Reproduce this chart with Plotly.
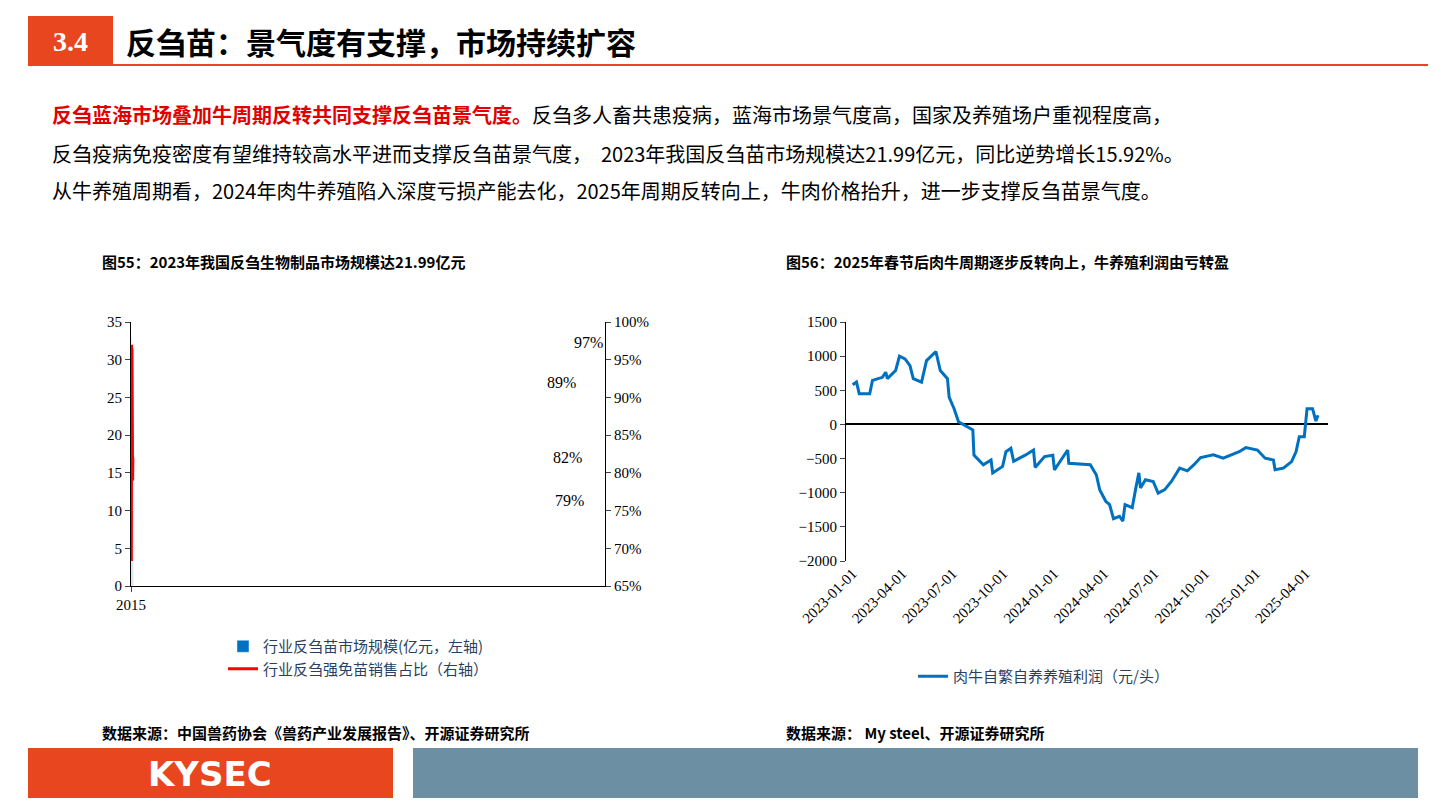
import plotly.graph_objects as go

# left chart data
years = ["2015", "2016", "2017", "2018", "2019", "2020", "2021", "2022", "2023"]
market_size = [19.7, 28.0, 32.9, 25.7, 13.0, 16.7, 19.4, 19.0, 21.99]
strong_share = [89, 68.3, 97, 85, 96.5, 92, 83, 79, 82]
share_labels = ["89%", "", "97%", "", "", "", "", "79%", "82%"]

# right chart data
dates = ["2023-01-01", "2023-01-08", "2023-01-13", "2023-02-01", "2023-02-06", "2023-02-24",
         "2023-03-02", "2023-03-05", "2023-03-20", "2023-03-27", "2023-04-06", "2023-04-15",
         "2023-04-21", "2023-05-06", "2023-05-15", "2023-06-01", "2023-06-09", "2023-06-22",
         "2023-06-25", "2023-07-04", "2023-07-12", "2023-07-27", "2023-08-07", "2023-08-09",
         "2023-08-26", "2023-09-09", "2023-09-12", "2023-09-30", "2023-10-06", "2023-10-15",
         "2023-10-20", "2023-11-10", "2023-11-25", "2023-11-28", "2023-12-15", "2023-12-30",
         "2024-01-02", "2024-01-26", "2024-01-28", "2024-03-07", "2024-03-18", "2024-03-24",
         "2024-04-04", "2024-04-11", "2024-04-18", "2024-04-29", "2024-05-05", "2024-05-09",
         "2024-05-22", "2024-05-28", "2024-06-03", "2024-06-06", "2024-06-15", "2024-06-29",
         "2024-07-08", "2024-07-20", "2024-08-01", "2024-08-16", "2024-08-30", "2024-09-11",
         "2024-09-23", "2024-10-16", "2024-11-03", "2024-12-02", "2024-12-14", "2025-01-04",
         "2025-01-18", "2025-02-02", "2025-02-05", "2025-02-20", "2025-03-07", "2025-03-15",
         "2025-03-21", "2025-03-30", "2025-04-04", "2025-04-14", "2025-04-20", "2025-04-24"]
profit = [580, 620, 450, 450, 645, 690, 765, 670, 790, 1000, 960, 860,
          670, 620, 935, 1065, 790, 670, 400, 230, 40, -35, -80, -450,
          -590, -520, -710, -615, -400, -350, -540, -450, -375, -630, -470, -450,
          -665, -375, -570, -590, -740, -955, -1125, -1175, -1380, -1345, -1415, -1175,
          -1220, -955, -710, -930, -810, -835, -1005, -955, -835, -640, -680, -590,
          -485, -445, -495, -400, -340, -375, -495, -520, -665, -640, -545, -400,
          -180, -180, 230, 230, 50, 135]
quarter_ticks = ["2023-01-01", "2023-04-01", "2023-07-01", "2023-10-01", "2024-01-01",
                 "2024-04-01", "2024-07-01", "2024-10-01", "2025-01-01", "2025-04-01"]

ORANGE = "#E8461E"
BLUE = "#0070C0"
SERIF = "Liberation Serif, Times New Roman, Noto Sans CJK SC"
CJK = "Noto Sans CJK SC"
W, H = 1440, 810

def px(x):
    return x / W

def py(y):
    return 1 - y / H

fig = go.Figure()

fig.add_trace(go.Bar(x=years, y=market_size, marker_color=BLUE, width=0.4,
                     name="行业反刍苗市场规模(亿元，左轴)", xaxis="x", yaxis="y", legend="legend"))
fig.add_trace(go.Scatter(x=years, y=strong_share, mode="lines", line=dict(color="#FF0000", width=3),
                         name="行业反刍强免苗销售占比（右轴）", xaxis="x", yaxis="y2", legend="legend"))
fig.add_trace(go.Scatter(x=dates, y=profit, mode="lines", line=dict(color=BLUE, width=3),
                         name="肉牛自繁自养养殖利润（元/头）", xaxis="x3", yaxis="y3", legend="legend2"))

shapes = [
    dict(type="rect", xref="paper", yref="paper", x0=px(20), x1=px(105), y0=py(57), y1=py(8),
         fillcolor=ORANGE, line_width=0),
    dict(type="line", xref="paper", yref="paper", x0=px(20), x1=px(1420), y0=py(57), y1=py(57),
         line=dict(color=ORANGE, width=2)),
    dict(type="rect", xref="paper", yref="paper", x0=px(20), x1=px(385), y0=py(790), y1=py(740),
         fillcolor=ORANGE, line_width=0),
    dict(type="rect", xref="paper", yref="paper", x0=px(405), x1=px(1410), y0=py(790), y1=py(740),
         fillcolor="#6C8FA3", line_width=0),
]

def note(x, y, text, size=16, color="black", family=CJK, anchor="left"):
    return dict(xref="paper", yref="paper", x=px(x), y=py(y), text=text, showarrow=False,
                xanchor=anchor, yanchor="middle", font=dict(size=size, color=color, family=family))

annotations = [
    note(62, 33, "<b>3.4</b>", 28, "white", SERIF, "center"),
    note(116, 33, "<b>反刍苗：景气度有支撑，市场持续扩容</b>", 30),
    note(42, 107, "<b><span style='color:#E00000'>反刍蓝海市场叠加牛周期反转共同支撑反刍苗景气度。</span></b>"
         "反刍多人畜共患疫病，蓝海市场景气度高，国家及养殖场户重视程度高，", 20),
    note(42, 145, "反刍疫病免疫密度有望维持较高水平进而支撑反刍苗景气度，  2023年我国反刍苗市场规模达21.99亿元，同比逆势增长15.92%。", 20),
    note(42, 183, "从牛养殖周期看，2024年肉牛养殖陷入深度亏损产能去化，2025年周期反转向上，牛肉价格抬升，进一步支撑反刍苗景气度。", 20),
    note(92, 254, "<b>图55：2023年我国反刍生物制品市场规模达21.99亿元</b>", 15),
    note(776, 254, "<b>图56：2025年春节后肉牛周期逐步反转向上，牛养殖利润由亏转盈</b>", 15),
    note(92, 724, "<b>数据来源：中国兽药协会《兽药产业发展报告》、开源证券研究所</b>", 15),
    note(776, 724, "<b>数据来源： My steel、开源证券研究所</b>", 15),
    note(202, 766, "<b>KYSEC</b>", 34, "white", "DejaVu Sans", "center"),
]
offsets = {"89%": (-5, -22), "97%": (22, -2), "79%": (2, 20), "82%": (0, 0)}
for yr, v, lab in zip(years, strong_share, share_labels):
    if lab:
        dx, dy = offsets[lab]
        annotations.append(dict(x=yr, y=v, xref="x", yref="y2", text=lab, showarrow=False,
                                xshift=dx, yshift=-dy, font=dict(size=16, family=SERIF, color="black")))

axis_font = dict(size=15, family=SERIF, color="black")
fig.update_layout(
    width=W, height=H, margin=dict(l=0, r=0, t=0, b=0, autoexpand=False),
    paper_bgcolor="white", plot_bgcolor="white",
    shapes=shapes, annotations=annotations,
    bargap=0.5,
    xaxis=dict(domain=[px(123), px(597)], anchor="y", type="category", showline=True, linecolor="black",
               ticks="outside", tickfont=axis_font, showgrid=False, ticklen=5, automargin=False),
    yaxis=dict(domain=[py(578), py(314)], anchor="x", range=[0, 35], dtick=5, showline=True,
               linecolor="black", ticks="outside", tickfont=axis_font, showgrid=False, zeroline=False,
               automargin=False),
    yaxis2=dict(overlaying="y", side="right", anchor="x", range=[65, 100], dtick=5, ticksuffix="%",
                showline=True, linecolor="black", ticks="outside", tickfont=axis_font, showgrid=False,
                automargin=False),
    xaxis3=dict(domain=[px(838), px(1320)], anchor="y3", range=["2022-12-20", "2025-05-12"],
                tickvals=quarter_ticks, tickformat="%Y-%m-%d", tickangle=-45, tickfont=axis_font,
                showgrid=False, showline=False, ticks="", automargin=False),
    yaxis3=dict(domain=[py(553), py(314)], anchor="x3", range=[-2000, 1500], dtick=500, showline=True,
                linecolor="black", ticks="outside", tickfont=axis_font, showgrid=False,
                zeroline=True, zerolinecolor="black", zerolinewidth=1.5, automargin=False),
    legend=dict(x=px(215), y=py(622), xanchor="left", yanchor="top", font=dict(size=15, family=CJK),
                bgcolor="rgba(0,0,0,0)", tracegroupgap=10),
    legend2=dict(x=px(905), y=py(652), xanchor="left", yanchor="top", font=dict(size=15, family=CJK),
                 bgcolor="rgba(0,0,0,0)"),
    showlegend=True,
)

fig.write_html("out.html")
